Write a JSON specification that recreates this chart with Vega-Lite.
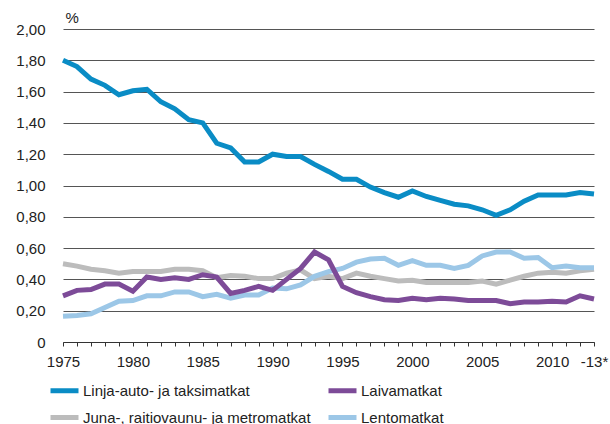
{
  "$schema": "https://vega.github.io/schema/vega-lite/v6.json",
  "autosize": "none",
  "width": 531,
  "height": 313,
  "padding": {"left": 63, "top": 29, "right": 16, "bottom": 82},
  "config": {
    "view": {"stroke": null},
    "font": "Liberation Sans",
    "axis": {"labelFont": "Liberation Sans", "labelColor": "#222", "labelFontSize": 15},
    "legend": {"labelFont": "Liberation Sans", "labelColor": "#222", "labelFontSize": 15}
  },
  "data": {
    "values": [
      {"year": 1975, "Linja-auto- ja taksimatkat": 1.80, "Laivamatkat": 0.295, "Juna-, raitiovaunu- ja metromatkat": 0.50, "Lentomatkat": 0.165},
      {"year": 1976, "Linja-auto- ja taksimatkat": 1.76, "Laivamatkat": 0.33, "Juna-, raitiovaunu- ja metromatkat": 0.485, "Lentomatkat": 0.17},
      {"year": 1977, "Linja-auto- ja taksimatkat": 1.68, "Laivamatkat": 0.335, "Juna-, raitiovaunu- ja metromatkat": 0.465, "Lentomatkat": 0.18},
      {"year": 1978, "Linja-auto- ja taksimatkat": 1.64, "Laivamatkat": 0.37, "Juna-, raitiovaunu- ja metromatkat": 0.455, "Lentomatkat": 0.22},
      {"year": 1979, "Linja-auto- ja taksimatkat": 1.58, "Laivamatkat": 0.37, "Juna-, raitiovaunu- ja metromatkat": 0.44, "Lentomatkat": 0.26},
      {"year": 1980, "Linja-auto- ja taksimatkat": 1.605, "Laivamatkat": 0.325, "Juna-, raitiovaunu- ja metromatkat": 0.45, "Lentomatkat": 0.265},
      {"year": 1981, "Linja-auto- ja taksimatkat": 1.615, "Laivamatkat": 0.415, "Juna-, raitiovaunu- ja metromatkat": 0.45, "Lentomatkat": 0.295},
      {"year": 1982, "Linja-auto- ja taksimatkat": 1.535, "Laivamatkat": 0.40, "Juna-, raitiovaunu- ja metromatkat": 0.45, "Lentomatkat": 0.295},
      {"year": 1983, "Linja-auto- ja taksimatkat": 1.49, "Laivamatkat": 0.41, "Juna-, raitiovaunu- ja metromatkat": 0.465, "Lentomatkat": 0.32},
      {"year": 1984, "Linja-auto- ja taksimatkat": 1.42, "Laivamatkat": 0.40, "Juna-, raitiovaunu- ja metromatkat": 0.465, "Lentomatkat": 0.32},
      {"year": 1985, "Linja-auto- ja taksimatkat": 1.40, "Laivamatkat": 0.43, "Juna-, raitiovaunu- ja metromatkat": 0.455, "Lentomatkat": 0.29},
      {"year": 1986, "Linja-auto- ja taksimatkat": 1.27, "Laivamatkat": 0.415, "Juna-, raitiovaunu- ja metromatkat": 0.41, "Lentomatkat": 0.305},
      {"year": 1987, "Linja-auto- ja taksimatkat": 1.24, "Laivamatkat": 0.31, "Juna-, raitiovaunu- ja metromatkat": 0.425, "Lentomatkat": 0.28},
      {"year": 1988, "Linja-auto- ja taksimatkat": 1.15, "Laivamatkat": 0.33, "Juna-, raitiovaunu- ja metromatkat": 0.42, "Lentomatkat": 0.30},
      {"year": 1989, "Linja-auto- ja taksimatkat": 1.15, "Laivamatkat": 0.355, "Juna-, raitiovaunu- ja metromatkat": 0.405, "Lentomatkat": 0.30},
      {"year": 1990, "Linja-auto- ja taksimatkat": 1.20, "Laivamatkat": 0.33, "Juna-, raitiovaunu- ja metromatkat": 0.405, "Lentomatkat": 0.345},
      {"year": 1991, "Linja-auto- ja taksimatkat": 1.185, "Laivamatkat": 0.40, "Juna-, raitiovaunu- ja metromatkat": 0.44, "Lentomatkat": 0.34},
      {"year": 1992, "Linja-auto- ja taksimatkat": 1.185, "Laivamatkat": 0.47, "Juna-, raitiovaunu- ja metromatkat": 0.46, "Lentomatkat": 0.365},
      {"year": 1993, "Linja-auto- ja taksimatkat": 1.135, "Laivamatkat": 0.575, "Juna-, raitiovaunu- ja metromatkat": 0.405, "Lentomatkat": 0.42},
      {"year": 1994, "Linja-auto- ja taksimatkat": 1.09, "Laivamatkat": 0.525, "Juna-, raitiovaunu- ja metromatkat": 0.42, "Lentomatkat": 0.45},
      {"year": 1995, "Linja-auto- ja taksimatkat": 1.04, "Laivamatkat": 0.355, "Juna-, raitiovaunu- ja metromatkat": 0.405, "Lentomatkat": 0.47},
      {"year": 1996, "Linja-auto- ja taksimatkat": 1.04, "Laivamatkat": 0.315, "Juna-, raitiovaunu- ja metromatkat": 0.44, "Lentomatkat": 0.51},
      {"year": 1997, "Linja-auto- ja taksimatkat": 0.99, "Laivamatkat": 0.29, "Juna-, raitiovaunu- ja metromatkat": 0.42, "Lentomatkat": 0.53},
      {"year": 1998, "Linja-auto- ja taksimatkat": 0.955, "Laivamatkat": 0.27, "Juna-, raitiovaunu- ja metromatkat": 0.405, "Lentomatkat": 0.535},
      {"year": 1999, "Linja-auto- ja taksimatkat": 0.925, "Laivamatkat": 0.265, "Juna-, raitiovaunu- ja metromatkat": 0.39, "Lentomatkat": 0.49},
      {"year": 2000, "Linja-auto- ja taksimatkat": 0.965, "Laivamatkat": 0.28, "Juna-, raitiovaunu- ja metromatkat": 0.395, "Lentomatkat": 0.52},
      {"year": 2001, "Linja-auto- ja taksimatkat": 0.93, "Laivamatkat": 0.27, "Juna-, raitiovaunu- ja metromatkat": 0.38, "Lentomatkat": 0.49},
      {"year": 2002, "Linja-auto- ja taksimatkat": 0.905, "Laivamatkat": 0.28, "Juna-, raitiovaunu- ja metromatkat": 0.38, "Lentomatkat": 0.49},
      {"year": 2003, "Linja-auto- ja taksimatkat": 0.88, "Laivamatkat": 0.275, "Juna-, raitiovaunu- ja metromatkat": 0.38, "Lentomatkat": 0.47},
      {"year": 2004, "Linja-auto- ja taksimatkat": 0.87, "Laivamatkat": 0.265, "Juna-, raitiovaunu- ja metromatkat": 0.38, "Lentomatkat": 0.49},
      {"year": 2005, "Linja-auto- ja taksimatkat": 0.845, "Laivamatkat": 0.265, "Juna-, raitiovaunu- ja metromatkat": 0.39, "Lentomatkat": 0.55},
      {"year": 2006, "Linja-auto- ja taksimatkat": 0.81, "Laivamatkat": 0.265, "Juna-, raitiovaunu- ja metromatkat": 0.37, "Lentomatkat": 0.575},
      {"year": 2007, "Linja-auto- ja taksimatkat": 0.845, "Laivamatkat": 0.245, "Juna-, raitiovaunu- ja metromatkat": 0.395, "Lentomatkat": 0.575},
      {"year": 2008, "Linja-auto- ja taksimatkat": 0.90, "Laivamatkat": 0.255, "Juna-, raitiovaunu- ja metromatkat": 0.42, "Lentomatkat": 0.535},
      {"year": 2009, "Linja-auto- ja taksimatkat": 0.94, "Laivamatkat": 0.255, "Juna-, raitiovaunu- ja metromatkat": 0.44, "Lentomatkat": 0.54},
      {"year": 2010, "Linja-auto- ja taksimatkat": 0.94, "Laivamatkat": 0.26, "Juna-, raitiovaunu- ja metromatkat": 0.445, "Lentomatkat": 0.475},
      {"year": 2011, "Linja-auto- ja taksimatkat": 0.94, "Laivamatkat": 0.255, "Juna-, raitiovaunu- ja metromatkat": 0.44, "Lentomatkat": 0.485},
      {"year": 2012, "Linja-auto- ja taksimatkat": 0.955, "Laivamatkat": 0.295, "Juna-, raitiovaunu- ja metromatkat": 0.455, "Lentomatkat": 0.475},
      {"year": 2013, "Linja-auto- ja taksimatkat": 0.945, "Laivamatkat": 0.275, "Juna-, raitiovaunu- ja metromatkat": 0.465, "Lentomatkat": 0.475}
    ]
  },
  "transform": [
    {"fold": ["Juna-, raitiovaunu- ja metromatkat", "Lentomatkat", "Laivamatkat", "Linja-auto- ja taksimatkat"], "as": ["series", "value"]}
  ],
  "mark": {"type": "line", "strokeWidth": 5, "strokeJoin": "miter", "strokeCap": "butt"},
  "encoding": {
    "x": {
      "field": "year",
      "type": "quantitative",
      "scale": {"domain": [1975, 2013], "nice": false, "zero": false},
      "axis": {
        "title": null,
        "grid": false,
        "values": [1975,1976,1977,1978,1979,1980,1981,1982,1983,1984,1985,1986,1987,1988,1989,1990,1991,1992,1993,1994,1995,1996,1997,1998,1999,2000,2001,2002,2003,2004,2005,2006,2007,2008,2009,2010,2011,2012,2013],
        "format": "d",
        "labelExpr": "datum.value == 2013 ? '-13*' : (datum.value % 5 == 0 ? datum.label : '')",
        "labelOverlap": false,
        "labelBound": false,
        "labelFlush": false,
        "domainColor": "#333",
        "domainWidth": 1,
        "tickColor": "#333",
        "tickSize": 4,
        "labelPadding": 8
      }
    },
    "y": {
      "field": "value",
      "type": "quantitative",
      "scale": {"domain": [0, 2], "nice": false},
      "axis": {
        "title": "%",
        "titleAngle": 0,
        "titleAlign": "left",
        "titleBaseline": "bottom",
        "titleX": 2,
        "titleY": -4,
        "titleFontSize": 15,
        "titleFontWeight": "normal",
        "titleColor": "#222",
        "titleFont": "Liberation Sans",
        "values": [0, 0.2, 0.4, 0.6, 0.8, 1.0, 1.2, 1.4, 1.6, 1.8, 2.0],
        "labelExpr": "datum.value == 0 ? '0' : replace(format(datum.value, '.2f'), '.', ',')",
        "domain": false,
        "ticks": false,
        "labelPadding": 18,
        "gridColor": "#555",
        "gridWidth": 1
      }
    },
    "color": {
      "field": "series",
      "type": "nominal",
      "scale": {
        "domain": ["Linja-auto- ja taksimatkat", "Laivamatkat", "Juna-, raitiovaunu- ja metromatkat", "Lentomatkat"],
        "range": ["#0a8cc5", "#7d4b98", "#bcbcbc", "#9cc7e7"]
      },
      "legend": {
        "title": null,
        "orient": "none",
        "legendX": -15,
        "legendY": 345,
        "direction": "horizontal",
        "columns": 2,
        "symbolType": "stroke",
        "symbolStrokeWidth": 5,
        "symbolSize": 784,
        "labelOffset": 2,
        "columnPadding": 7,
        "rowPadding": 0,
        "labelLimit": 400
      }
    }
  }
}
